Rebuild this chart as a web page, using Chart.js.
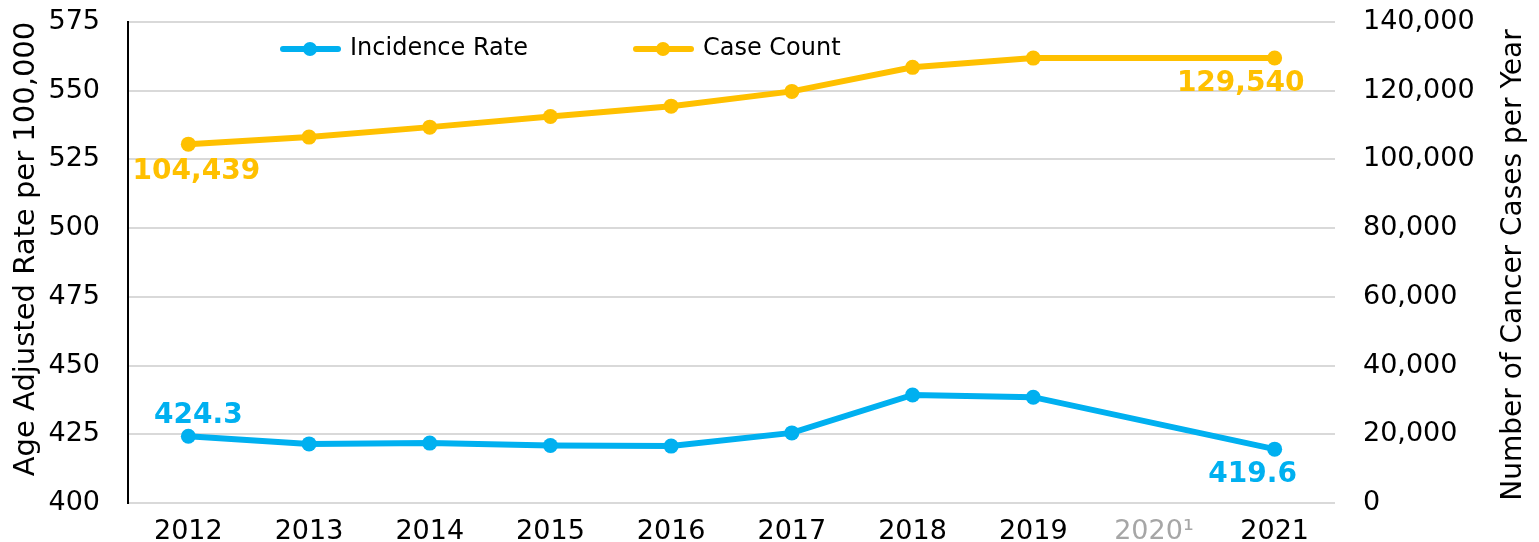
<!DOCTYPE html>
<html>
<head>
<meta charset="utf-8">
<script src="https://cdn.jsdelivr.net/npm/chart.js@4.4.0/dist/chart.umd.min.js"></script>
<style>
  html, body { margin: 0; padding: 0; background: #fff; overflow: hidden; }
  #wrap { width: 1539px; height: 542px; }
</style>
</head>
<body>
<div id="wrap"><canvas id="c"></canvas></div>
<script>
// data (2020 has no value)
const years = ['2012', '2013', '2014', '2015', '2016', '2017', '2018', '2019', '2020¹', '2021'];
const incidenceRate = [424.3, 421.5, 421.8, 420.9, 420.7, 425.5, 439.3, 438.5, null, 419.6];
const caseCount = [104439, 106500, 109400, 112500, 115500, 119800, 126800, 129500, null, 129540];

const blue = '#00B0F0';
const gold = '#FFC000';
const font = 'DejaVu Sans';

// first/last value labels, legend and axis titles drawn by hand
const extras = {
  id: 'extras',
  afterDatasetsDraw(chart) {
    const ctx = chart.ctx;
    ctx.save();
    ctx.font = 'bold 28px "' + font + '"';
    ctx.textAlign = 'center';
    ctx.textBaseline = 'middle';
    const lbl = (di, idx, txt, dx, dy, col) => {
      const p = chart.getDatasetMeta(di).data[idx];
      ctx.fillStyle = col;
      ctx.fillText(txt, p.x + dx, p.y + dy);
    };
    lbl(1, 0, caseCount[0].toLocaleString('en-US'), 8, 28, gold);
    lbl(1, 9, caseCount[9].toLocaleString('en-US'), -34, 26, gold);
    lbl(0, 0, incidenceRate[0].toFixed(1), 10, -20, blue);
    lbl(0, 9, incidenceRate[9].toFixed(1), -22, 26, blue);

    // legend
    const items = [['Incidence Rate', blue, 283], ['Case Count', gold, 636]];
    ctx.font = '24px "' + font + '"';
    ctx.textAlign = 'left';
    items.forEach(([name, col, x]) => {
      const y = 49;
      ctx.strokeStyle = col;
      ctx.lineWidth = 6;
      ctx.lineCap = 'round';
      ctx.beginPath();
      ctx.moveTo(x, y);
      ctx.lineTo(x + 55, y);
      ctx.stroke();
      ctx.fillStyle = col;
      ctx.beginPath();
      ctx.arc(x + 27, y, 7, 0, Math.PI * 2);
      ctx.fill();
      ctx.fillStyle = '#000';
      ctx.fillText(name, x + 67, y);
    });

    // axis titles, both reading bottom to top
    ctx.fillStyle = '#000';
    ctx.textAlign = 'center';
    const vtitle = (txt, x, y, size) => {
      ctx.save();
      ctx.translate(x, y);
      ctx.rotate(-Math.PI / 2);
      ctx.font = size + 'px "' + font + '"';
      ctx.fillText(txt, 0, 0);
      ctx.restore();
    };
    vtitle('Age Adjusted Rate per 100,000', 26, 249, 29);
    vtitle('Number of Cancer Cases per Year', 1514, 265, 28);
    ctx.restore();
  }
};

new Chart(document.getElementById('c'), {
  type: 'line',
  data: {
    labels: years,
    datasets: [
      {
        label: 'Incidence Rate',
        data: incidenceRate,
        yAxisID: 'y',
        borderColor: blue,
        backgroundColor: blue,
        borderWidth: 6,
        pointRadius: 7.5,
        pointBorderWidth: 0,
        spanGaps: true,
        tension: 0
      },
      {
        label: 'Case Count',
        data: caseCount,
        yAxisID: 'y1',
        borderColor: gold,
        backgroundColor: gold,
        borderWidth: 6,
        pointRadius: 7.5,
        pointBorderWidth: 0,
        spanGaps: true,
        tension: 0
      }
    ]
  },
  options: {
    responsive: true,
    maintainAspectRatio: false,
    animation: false,
    layout: { padding: { top: 22, bottom: 0, left: 0, right: 0 } },
    plugins: {
      legend: { display: false },
      tooltip: { enabled: false }
    },
    scales: {
      x: {
        offset: true,
        grid: { display: false },
        border: { display: false },
        ticks: {
          padding: 5,
          font: { family: font, size: 27 },
          color: (c) => c.index === 8 ? '#A6A6A6' : '#000',
          maxRotation: 0,
          autoSkip: false
        },
        afterFit: (s) => { s.height = 39; }
      },
      y: {
        position: 'left',
        min: 400,
        max: 575,
        // invisible tick marks give the gap between labels and axis
        grid: { color: '#D9D9D9', lineWidth: 2, drawTicks: true, tickLength: 28, tickColor: 'rgba(0,0,0,0)' },
        border: { display: true, color: '#000', width: 2 },
        ticks: {
          stepSize: 25,
          padding: 0,
          font: { family: font, size: 27 },
          color: '#000'
        },
        afterFit: (s) => { s.width = 128; }
      },
      y1: {
        position: 'right',
        min: 0,
        max: 140000,
        grid: { display: false, drawTicks: true, tickLength: 28 },
        border: { display: false },
        ticks: {
          stepSize: 20000,
          padding: 0,
          font: { family: font, size: 27 },
          color: '#000',
          callback: (v) => v.toLocaleString('en-US')
        },
        afterFit: (s) => { s.width = 204; }
      }
    }
  },
  plugins: [extras]
});
</script>
</body>
</html>
